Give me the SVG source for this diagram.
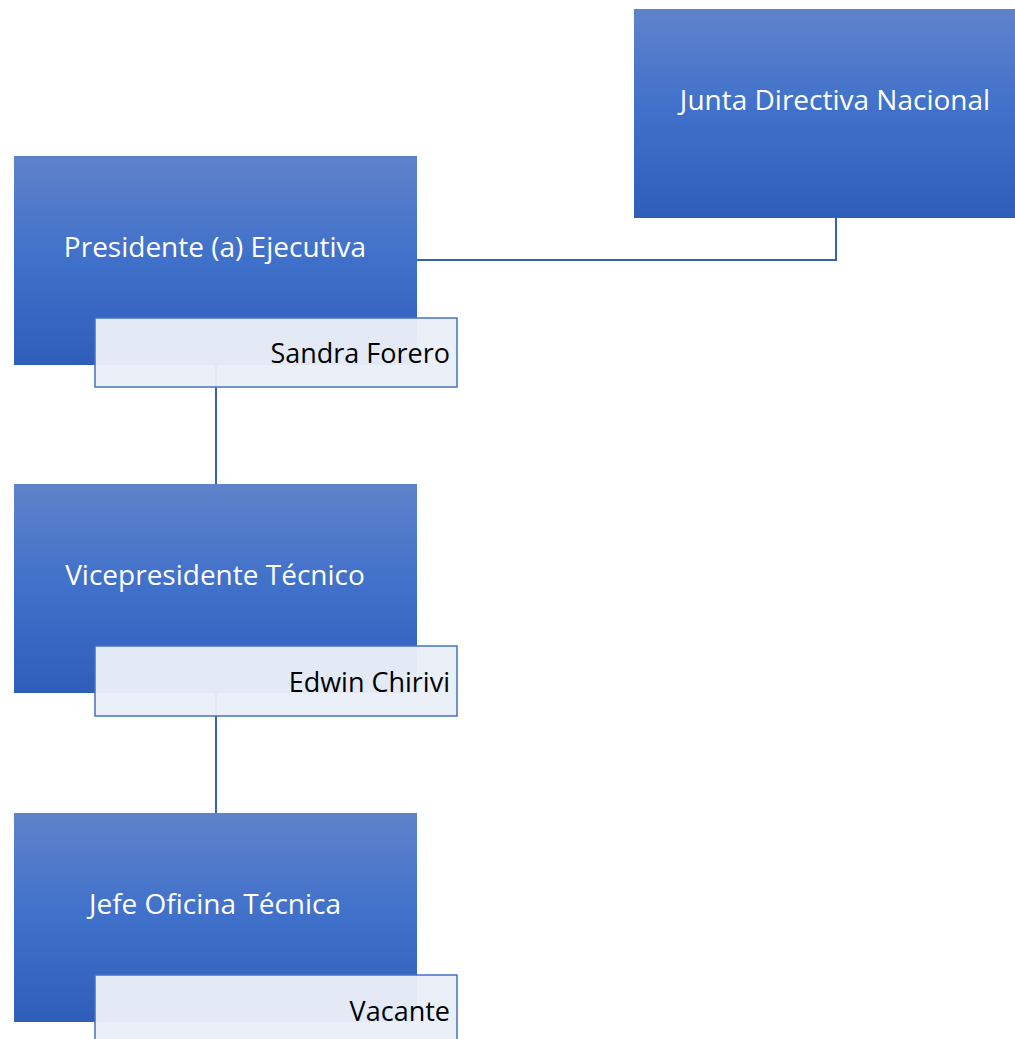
<svg xmlns="http://www.w3.org/2000/svg" width="1015" height="1039" viewBox="0 0 1015 1039">
<defs>
<linearGradient id="g" x1="0" y1="0" x2="0" y2="1">
<stop offset="0" stop-color="#5F83CA"/>
<stop offset="0.5" stop-color="#3F70CA"/>
<stop offset="1" stop-color="#2F5EBA"/>
</linearGradient>
</defs>
<style>
.box{fill:url(#g)}
.name{fill:#E9EEF8;fill-opacity:0.97;stroke:#4472C4;stroke-width:1.5}
.t{font-family:"Open Sans","Noto Sans",sans-serif;font-size:28px;fill:#FFFFFF;text-anchor:middle}
.n{font-family:"Open Sans","Noto Sans",sans-serif;font-size:27px;fill:#000000;text-anchor:end}
.c{fill:none;stroke:#3A62A8;stroke-width:2}
</style>
<rect width="1015" height="1039" fill="#FFFFFF"/>
<g id="connectors">
<polyline class="c" points="417,260 836,260 836,218"/>
<line class="c" x1="216" y1="365" x2="216" y2="484"/>
<line class="c" x1="216" y1="693" x2="216" y2="813"/>
</g>
<g id="junta">
<rect class="box" x="634" y="9" width="381" height="209"/>
<text class="t" x="835" y="110">Junta Directiva Nacional</text>
</g>
<g id="presidente">
<rect class="box" x="14" y="156" width="403" height="209"/>
<text class="t" x="215" y="257">Presidente (a) Ejecutiva</text>
<rect class="name" x="95" y="318" width="362" height="69"/>
<text class="n" x="450" y="363">Sandra Forero</text>
</g>
<g id="vicepresidente">
<rect class="box" x="14" y="484" width="403" height="209"/>
<text class="t" x="215" y="585">Vicepresidente Técnico</text>
<rect class="name" x="95" y="646" width="362" height="70"/>
<text class="n" x="450" y="692">Edwin Chirivi</text>
</g>
<g id="jefe">
<rect class="box" x="14" y="813" width="403" height="209"/>
<text class="t" x="215" y="914">Jefe Oficina Técnica</text>
<rect class="name" x="95" y="975" width="362" height="70"/>
<text class="n" x="450" y="1021">Vacante</text>
</g>
</svg>
